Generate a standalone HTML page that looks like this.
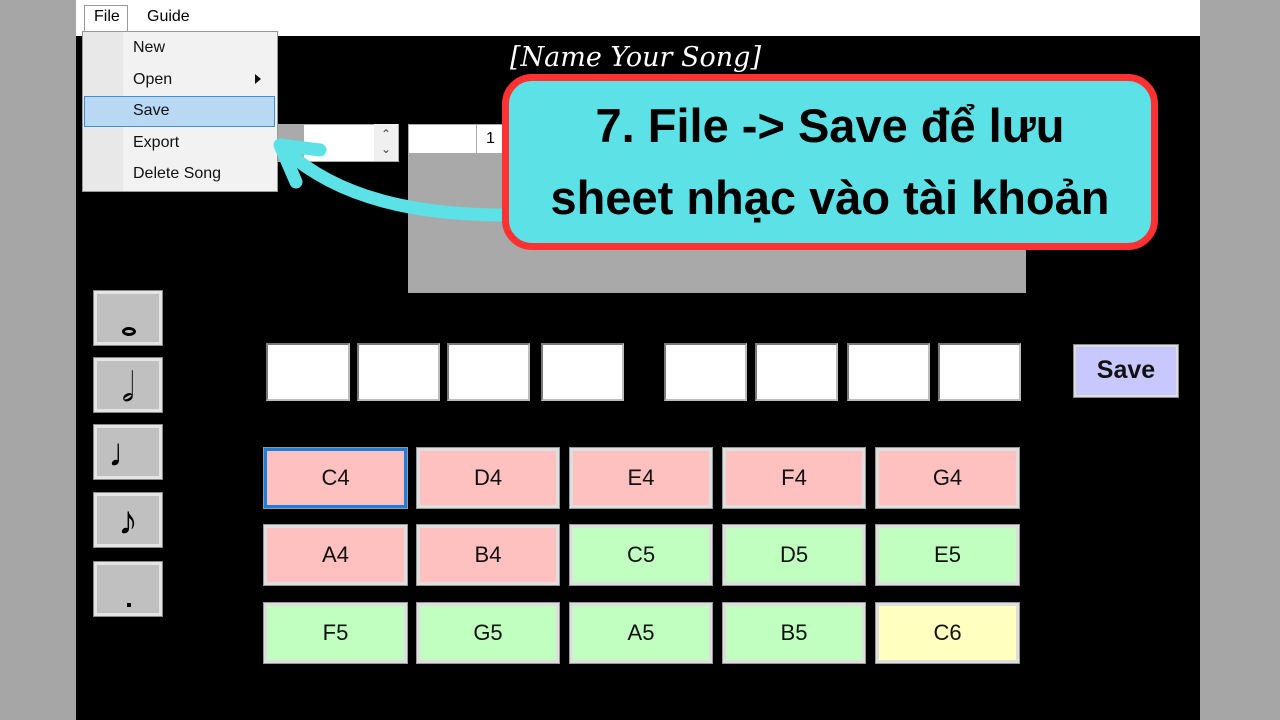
<!DOCTYPE html>
<html><head><meta charset="utf-8"><style>
body{margin:0;width:1280px;height:720px;overflow:hidden;background:#a6a6a6;position:relative;font-family:"Liberation Sans",sans-serif}
div{position:absolute;box-sizing:border-box}
.app{left:76px;top:0;width:1124px;height:720px;background:#000}
.bar{left:76px;top:0;width:1124px;height:36px;background:#fff}
.wb{background:#fff;border:2px solid #bdbdbd;border-top-color:#7a7a7a;border-left-color:#7a7a7a}
.nb{background:#c0c0c0;border:3px solid #e4e4e4;outline:1px solid #888;font-size:40px;text-align:center;color:#000}
.k{border:3px solid #dedede;outline:1px solid #999;font-size:22px;text-align:center;line-height:54px;color:#111;height:60px}
.p{background:#ffc0c0}.g{background:#c0ffc0}.y{background:#ffffc0}
.mi{left:133px;font-size:16px;color:#111}
</style></head><body>
<div class="app"></div>
<div class="bar"></div>
<div style="left:84px;top:5px;width:44px;height:28px;border:1px solid #999;border-bottom:none;background:#fff"></div>
<div style="left:94px;top:8px;font-size:16px">File</div>
<div style="left:147px;top:8px;font-size:16px">Guide</div>
<div style="left:82px;top:31px;width:196px;height:161px;background:#f2f2f2;border:1px solid #999"></div>
<div style="left:83px;top:32px;width:40px;height:159px;background:#e8e8e8"></div>
<div style="left:84px;top:96px;width:191px;height:31px;background:#b8d8f4;border:1px solid #3d8fd8"></div>
<div class="mi" style="top:39px">New</div>
<div class="mi" style="top:71px">Open</div>
<div style="left:255px;top:74px;width:0;height:0;border-left:6px solid #111;border-top:5px solid transparent;border-bottom:5px solid transparent"></div>
<div class="mi" style="top:102px">Save</div>
<div class="mi" style="top:134px">Export</div>
<div class="mi" style="top:165px">Delete Song</div>
<div style="left:510px;top:42px;font-family:'DejaVu Serif',serif;font-style:italic;font-size:27px;color:#fff">[Name Your Song]</div>
<div style="left:278px;top:124px;width:26px;height:38px;background:#aaa"></div>
<div style="left:303px;top:124px;width:96px;height:38px;background:#fff;border:1px solid #aaa"></div>
<div style="left:374px;top:124px;width:24px;height:37px;background:#f0f0f0;font-size:12px;line-height:15px;text-align:center;color:#444;padding-top:3px">&#8963;<br>&#8964;</div>
<div style="left:408px;top:124px;width:100px;height:30px;background:#fff;border:1px solid #aaa"></div>
<div style="left:476px;top:124px;width:1px;height:30px;background:#aaa"></div>
<div style="left:486px;top:130px;font-size:16px">1</div>
<div style="left:408px;top:154px;width:618px;height:139px;background:#a9a9a9"></div>
<div class="wb" style="left:266px;top:343px;width:84px;height:58px"></div>
<div class="wb" style="left:357px;top:343px;width:83px;height:58px"></div>
<div class="wb" style="left:447px;top:343px;width:83px;height:58px"></div>
<div class="wb" style="left:541px;top:343px;width:83px;height:58px"></div>
<div class="wb" style="left:664px;top:343px;width:83px;height:58px"></div>
<div class="wb" style="left:755px;top:343px;width:83px;height:58px"></div>
<div class="wb" style="left:847px;top:343px;width:83px;height:58px"></div>
<div class="wb" style="left:938px;top:343px;width:83px;height:58px"></div>
<div style="left:1074px;top:345px;width:104px;height:52px;background:#c8c8ff;border:2px solid #ddd;outline:1px solid #888;font-weight:bold;font-size:25px;text-align:center;line-height:46px;color:#111">Save</div>
<div class="nb" style="left:94px;top:291px;width:68px;height:54px"><span style="position:absolute;left:25px;top:33px;width:14px;height:9px;border:3px solid #000;border-radius:50%;box-sizing:border-box"></span></div>
<div class="nb" style="left:94px;top:358px;width:68px;height:54px;line-height:54px">&#119134;</div>
<div class="nb" style="left:94px;top:425px;width:68px;height:54px;line-height:50px">&#9833;</div>
<div class="nb" style="left:94px;top:493px;width:68px;height:54px;line-height:50px">&#9834;</div>
<div class="nb" style="left:94px;top:562px;width:68px;height:54px"><span style="position:absolute;left:30px;top:38px;width:4px;height:4px;background:#000"></span></div>
<div class="k p" style="left:264px;top:448px;width:143px;border-color:#1a7fe0">C4</div>
<div class="k p" style="left:417px;top:448px;width:142px">D4</div>
<div class="k p" style="left:570px;top:448px;width:142px">E4</div>
<div class="k p" style="left:723px;top:448px;width:142px">F4</div>
<div class="k p" style="left:876px;top:448px;width:143px">G4</div>
<div class="k p" style="left:264px;top:525px;width:143px">A4</div>
<div class="k p" style="left:417px;top:525px;width:142px">B4</div>
<div class="k g" style="left:570px;top:525px;width:142px">C5</div>
<div class="k g" style="left:723px;top:525px;width:142px">D5</div>
<div class="k g" style="left:876px;top:525px;width:143px">E5</div>
<div class="k g" style="left:264px;top:603px;width:143px">F5</div>
<div class="k g" style="left:417px;top:603px;width:142px">G5</div>
<div class="k g" style="left:570px;top:603px;width:142px">A5</div>
<div class="k g" style="left:723px;top:603px;width:142px">B5</div>
<div class="k y" style="left:876px;top:603px;width:143px">C6</div>
<svg style="position:absolute;left:0;top:0" width="1280" height="720">
<path d="M505 215 C420 215 340 200 285 150" fill="none" stroke="#5ce1e6" stroke-width="13" stroke-linecap="round"/>
<path d="M320 150 L280 145 L296 182" fill="none" stroke="#5ce1e6" stroke-width="13" stroke-linecap="round" stroke-linejoin="round"/>
</svg>
<div style="left:502px;top:74px;width:656px;height:176px;background:#5ce1e6;border:7px solid #ff3131;border-radius:30px;text-align:center;font-weight:bold;font-size:47px;line-height:72px;padding-top:9px;color:#000;font-family:'Liberation Sans',sans-serif">7. File -&gt; Save để lưu<br>sheet nhạc vào tài khoản</div>
</body></html>
